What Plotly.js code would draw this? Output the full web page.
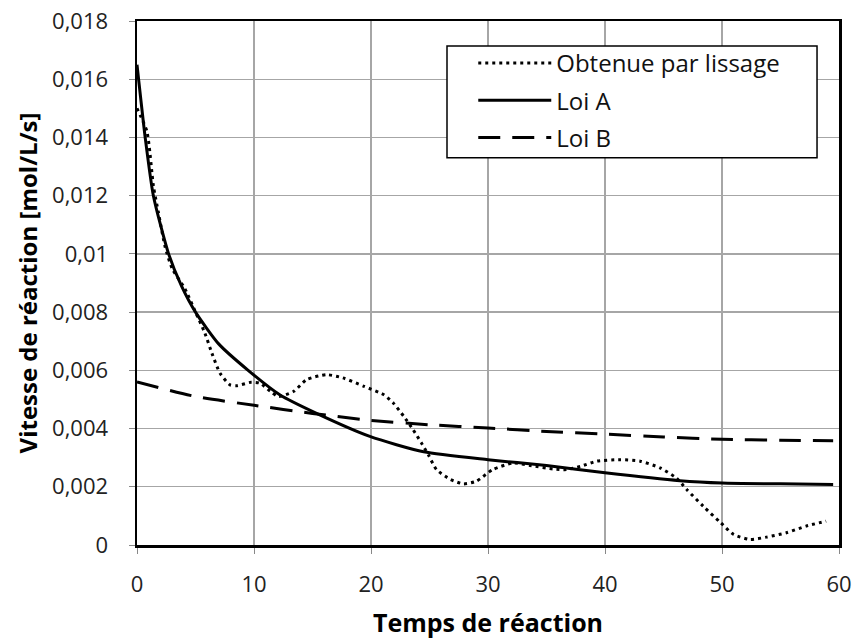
<!DOCTYPE html>
<html>
<head>
<meta charset="utf-8">
<script src="https://cdn.plot.ly/plotly-3.0.1.min.js"></script>
<style>html,body{margin:0;padding:0;background:#fff;}#chart{width:858px;height:641px;}</style>
</head>
<body>
<div id="chart"></div>
<script>
var seriesNames = ["Obtenue par lissage", "Loi A", "Loi B"];

var xLissage = [0, 0.85, 1.41, 1.84, 2.4, 3.0, 4.1, 5.0, 5.8, 6.4, 7.1, 7.95, 8.5, 9.75, 10.5, 11.4, 12.1, 13.4, 14.5, 16.2, 17.6, 19.4, 21.1, 21.9, 22.8, 23.6, 24.3, 24.9, 25.6, 26.8, 27.9, 29.0, 30.4, 32.2, 33.6, 35.6, 36.7, 37.9, 39.3, 41.3, 43.0, 44.7, 46.1, 47.0, 48.4, 49.9, 51.0, 52.4, 53.8, 55.5, 57.2, 58.9];
var yLissage = [0.0150, 0.0142, 0.01231, 0.0114, 0.01025, 0.0095, 0.0088, 0.0080, 0.00728, 0.00659, 0.0059, 0.0055, 0.00547, 0.00559, 0.00556, 0.00528, 0.0051, 0.00528, 0.00568, 0.00585, 0.00574, 0.00545, 0.00516, 0.00488, 0.00442, 0.00396, 0.00351, 0.0031, 0.00259, 0.00225, 0.0021, 0.00219, 0.00259, 0.00282, 0.00273, 0.00261, 0.00259, 0.0027, 0.00288, 0.00293, 0.00288, 0.00265, 0.0023, 0.0019, 0.00133, 0.00076, 0.00036, 0.00019, 0.00027, 0.00042, 0.00065, 0.00082];

var xLoiA = [0, 0.7, 1.4, 2.7, 3.8, 5.0, 7.0, 9.5, 12.2, 15.3, 19.9, 24.5, 30, 35, 40, 46.4, 50, 55, 59.5];
var yLoiA = [0.0165, 0.0140, 0.0120, 0.0100, 0.0089, 0.0080, 0.0069, 0.0060, 0.00516, 0.00453, 0.00373, 0.0032, 0.00293, 0.00273, 0.00248, 0.00221, 0.00213, 0.0021, 0.00208];

var xLoiB = [0, 5, 10, 15, 20, 25, 30, 35, 40, 45, 50, 55, 59.5];
var yLoiB = [0.0056, 0.0051, 0.0048, 0.00452, 0.00428, 0.00413, 0.00402, 0.0039, 0.00381, 0.00371, 0.00363, 0.0036, 0.00358];

var xTickVals = [0, 10, 20, 30, 40, 50, 60];
var xTickText = ["0", "10", "20", "30", "40", "50", "60"];
var yTickVals = [0, 0.002, 0.004, 0.006, 0.008, 0.01, 0.012, 0.014, 0.016, 0.018];
var yTickText = ["0", "0,002", "0,004", "0,006", "0,008", "0,01", "0,012", "0,014", "0,016", "0,018"];

var xTitle = "Temps de réaction";
var yTitle = "Vitesse de réaction [mol/L/s]";

var FONT = "Open Sans, DejaVu Sans, sans-serif";

var traces = [
  {x: xLissage, y: yLissage, name: seriesNames[0], mode: "lines", legendgroup: "a",
   line: {color: "#000", width: 3, dash: "3px,4px", shape: "spline", smoothing: 0.6}},
  {x: xLoiA, y: yLoiA, name: seriesNames[1], mode: "lines", legendgroup: "b",
   line: {color: "#000", width: 3, shape: "spline", smoothing: 0.6}},
  {x: xLoiB, y: yLoiB, name: seriesNames[2], mode: "lines", legendgroup: "c",
   line: {color: "#000", width: 3, dash: "22px,12px", shape: "spline", smoothing: 0.6}}
];

var layout = {
  width: 858, height: 641,
  margin: {l: 137, r: 19, t: 21, b: 96, pad: 0},
  paper_bgcolor: "#fff", plot_bgcolor: "#fff",
  font: {family: FONT, color: "#222", size: 20},
  showlegend: true,
  legend: {
    x: 0.479, y: 0.962, xanchor: "left", yanchor: "top",
    bgcolor: "rgba(0,0,0,0)", borderwidth: 0,
    font: {family: FONT, size: 24, color: "#111"},
    itemwidth: 73, tracegroupgap: 3, traceorder: "grouped"
  },
  shapes: [
    {type: "rect", xref: "paper", yref: "paper", x0: 0.4416, x1: 0.9687, y0: 0.7388, y1: 0.9523,
     fillcolor: "#fff", line: {color: "#000", width: 1.5}, layer: "above"}
  ],
  xaxis: {
    range: [0, 60], tickvals: xTickVals, ticktext: xTickText,
    showgrid: true, gridcolor: "#a6a6a6", gridwidth: 1.3,
    showline: true, linecolor: "#000", linewidth: 2.5, mirror: true,
    ticks: "outside", ticklen: 6, tickcolor: "#888", tickwidth: 1,
    ticklabelstandoff: 12,
    tickfont: {family: FONT, size: 22, color: "#222"},
    zeroline: false,
    title: {text: xTitle, font: {family: FONT, size: 25, color: "#000", weight: "bold"}, standoff: 18}
  },
  yaxis: {
    range: [0, 0.018], tickvals: yTickVals, ticktext: yTickText,
    showgrid: true, gridcolor: "#a6a6a6", gridwidth: 1.3,
    showline: true, linecolor: "#000", linewidth: 2.5, mirror: true,
    ticks: "outside", ticklen: 6, tickcolor: "#888", tickwidth: 1,
    ticklabelstandoff: 16,
    tickfont: {family: FONT, size: 22, color: "#222"},
    zeroline: false,
    title: {text: yTitle, font: {family: FONT, size: 24, color: "#000", weight: "bold"}, standoff: 8}
  }
};

Plotly.newPlot("chart", traces, layout, {displayModeBar: false, staticPlot: true});
</script>
</body>
</html>
